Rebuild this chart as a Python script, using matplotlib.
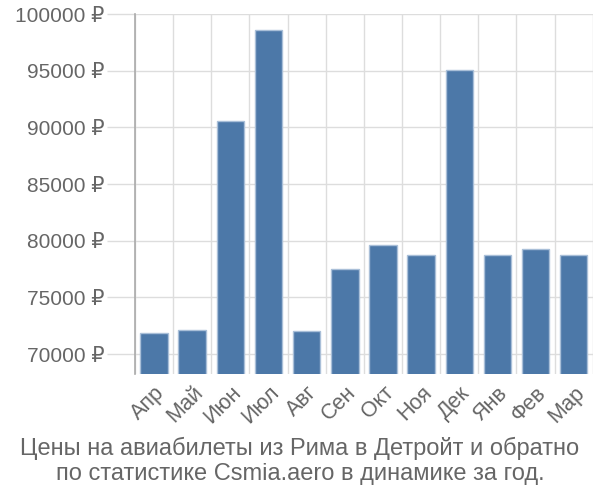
import numpy as np
import matplotlib.pyplot as plt

# --- chart data ---
months = ['Апр', 'Май', 'Июн', 'Июл', 'Авг', 'Сен', 'Окт', 'Ноя', 'Дек', 'Янв', 'Фев', 'Мар']
prices = [71900, 72100, 90600, 98600, 72000, 77470, 79600, 78700, 95060, 78700, 79300, 78700]
y_ticks = [70000, 75000, 80000, 85000, 90000, 95000, 100000]
title = 'Цены на авиабилеты из Рима в Детройт и обратно\nпо статистике Csmia.aero в динамике за год.'

plt.rcParams['font.family'] = ['Liberation Sans', 'DejaVu Sans']

fig = plt.figure(figsize=(6, 5), dpi=100)
ax = fig.add_axes([0.225, 0.252, 0.763, 0.72])

x = np.arange(len(months))
ax.bar(x, prices, width=0.72, color='#4c78a8', edgecolor='#a9bfd8', linewidth=1, zorder=3)

ax.set_xlim(-0.5, len(months) - 0.5)
ax.set_ylim(68240, 100000)

# y axis: gridlines extend out left as tick marks
ax.set_yticks(y_ticks)
ax.set_yticklabels([f'{v} ₽' for v in y_ticks])
ax.tick_params(axis='y', length=20, width=1, color='#dddddd', labelsize=15,
               labelcolor='#666666', pad=2)
ax.grid(axis='y', color='#dddddd', linewidth=1, zorder=0)

# x axis: labels under bars, gridlines at category boundaries
ax.set_xticks(x)
ax.set_xticklabels(months, rotation=45, ha='right', rotation_mode='anchor')
ax.tick_params(axis='x', length=0, labelsize=15.5, labelcolor='#666666', pad=6)
ax.set_xticks(np.arange(-0.5, len(months)), minor=True)
ax.tick_params(axis='x', which='minor', length=0)
ax.grid(axis='x', which='minor', color='#dddddd', linewidth=1, zorder=0)

for s in ['top', 'right', 'bottom']:
    ax.spines[s].set_visible(False)
ax.spines['left'].set_color('#aaaaaa')
ax.spines['left'].set_linewidth(1.2)

fig.text(0.5, 0.078, title, ha='center', va='center', fontsize=17,
         color='#666666', linespacing=1.2)

fig.savefig('out.png', dpi=100)
